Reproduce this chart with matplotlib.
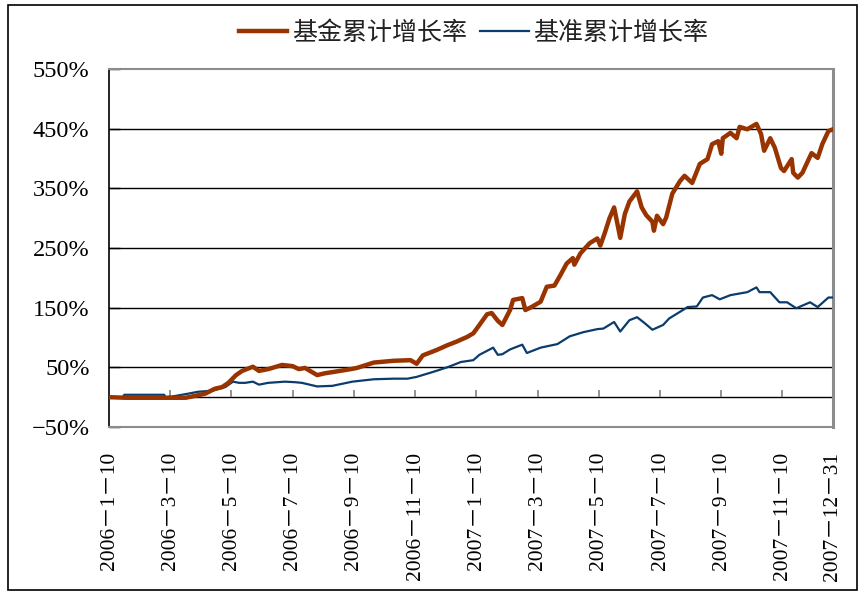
import matplotlib.pyplot as plt
from matplotlib.patches import Rectangle

# 字体：数字用衬线体，中文用 Noto Sans CJK
plt.rcParams['font.family'] = ['Liberation Serif', 'Noto Sans CJK SC']
plt.rcParams['axes.unicode_minus'] = True

# 数据（按交易日序号取样，数值为累计增长率 %）
fund_day = [0, 11, 27, 39, 50, 56, 63, 69, 74, 78, 83, 87, 94, 98, 104, 113, 120, 124,
            128, 136, 141, 146, 158, 162, 173, 186, 197, 201, 205, 214, 221, 227, 234,
            238, 242, 247, 250, 254, 257, 262, 264, 270, 272, 276, 282, 286, 291, 295,
            299, 303, 304, 308, 314, 319, 321, 324, 327, 330, 334, 337, 340, 345, 348,
            351, 355, 356, 358, 362, 364, 368, 373, 376, 381, 386, 391, 394, 398, 400,
            401, 406, 410, 412, 417, 423, 426, 428, 432, 435, 439, 441, 446, 447, 450,
            453, 459, 463, 466, 470, 473]
fund_val = [0, -1, -1, -1, -1, 2, 6, 14, 17, 24, 37, 44, 51, 44, 47, 54, 52, 47,
            49, 37, 40, 42, 47, 49, 58, 61, 62, 56, 70, 79, 87, 93, 101,
            107, 121, 139, 141, 128, 121, 146, 163, 166, 146, 151, 160, 185, 187, 205,
            224, 233, 222, 241, 258, 266, 254, 276, 300, 318, 267, 307, 328, 345, 318,
            305, 294, 279, 304, 290, 301, 341, 362, 371, 359, 391, 399, 424, 429, 408,
            434, 443, 434, 453, 449, 458, 441, 413, 434, 418, 384, 379, 399, 376, 368,
            376, 409, 401, 424, 446, 449]

bench_day = [0, 9, 10, 36, 37, 41, 52, 58, 68, 76, 81, 85, 89, 94, 98, 104, 115, 122,
             126, 136, 146, 159, 173, 186, 195, 201, 210, 215, 222, 230, 238, 242, 251,
             254, 257, 262, 270, 273, 282, 293, 301, 310, 319, 323, 330, 334, 340, 345,
             350, 355, 362, 366, 373, 378, 384, 388, 394, 399, 406, 417, 423, 425, 432,
             438, 443, 449, 458, 463, 470, 473]
bench_val = [0, 0, 4, 4, 0, 1, 6, 9, 11, 17, 26, 24, 24, 26, 21, 24, 26, 25,
             24, 18, 19, 26, 30, 31, 31, 34, 41, 45, 51, 59, 62, 71, 83,
             71, 72, 80, 88, 74, 83, 89, 102, 109, 114, 115, 126, 110, 129, 134,
             124, 113, 121, 132, 143, 151, 152, 167, 171, 164, 171, 176, 184, 176, 176,
             159, 159, 149, 159, 151, 167, 167]

tick_day = [0, 40, 80, 120, 160, 200, 240, 280, 320, 360, 400, 440, 473]
tick_labels = ['2006－1－10', '2006－3－10', '2006－5－10', '2006－7－10', '2006－9－10',
               '2006－11－10', '2007－1－10', '2007－3－10', '2007－5－10', '2007－7－10',
               '2007－9－10', '2007－11－10', '2007－12－31']
y_ticks = [-50, 50, 150, 250, 350, 450, 550]

fig = plt.figure(figsize=(8.6, 5.92), dpi=100)
ax = fig.add_axes([109 / 860, 1 - 427 / 592, 724 / 860, 358 / 592])

# 外边框
fig.patches.append(Rectangle((8 / 860, 2 / 592), 849 / 860, 585 / 592,
                             transform=fig.transFigure, fill=False,
                             edgecolor='black', linewidth=1.2))

# 网格线与零线
for y in y_ticks[1:-1]:
    ax.axhline(y, color='black', linewidth=1.0, zorder=1)
ax.axhline(0, color='black', linewidth=1.0, zorder=1)
ax.vlines(tick_day[1:-1], 0, 12, color='gray', linewidth=1.2, zorder=1)

ax.plot(bench_day, bench_val, color='#0B3C6E', linewidth=1.6, label='基准累计增长率', zorder=3)
ax.plot(fund_day, fund_val, color='#993300', linewidth=3.2, label='基金累计增长率', zorder=4)

ax.set_xlim(0, 473)
ax.set_ylim(-50, 550)
ax.set_yticks(y_ticks)
ax.set_yticklabels([f'{v}%'.replace('-', '−') for v in y_ticks], fontsize=17.5)
ax.tick_params(axis='y', direction='in', length=8, width=1.0, pad=14, color='black')
ax.set_xticks(tick_day)
ax.set_xticklabels(tick_labels, rotation=90, fontsize=15.5, va='top', ha='center')
ax.tick_params(axis='x', length=0, pad=18)

for s in ['top', 'right', 'bottom']:
    ax.spines[s].set_color('#8c8c8c')
    ax.spines[s].set_linewidth(1.5)
ax.spines['right'].set_linewidth(2.2)
ax.spines['left'].set_color('black')
ax.spines['left'].set_linewidth(1.2)

handles, labels = ax.get_legend_handles_labels()
leg = fig.legend(handles[::-1], labels[::-1], loc='center', ncol=2, frameon=False,
                 bbox_to_anchor=(473.5 / 860, 1 - 33 / 592),
                 prop={'family': ['Noto Sans CJK SC'], 'size': 18},
                 handlelength=1.95, handletextpad=0.2, columnspacing=0.5)
for t in leg.get_texts():
    t.set_color('#222222')

fig.savefig('out.png', dpi=100)
